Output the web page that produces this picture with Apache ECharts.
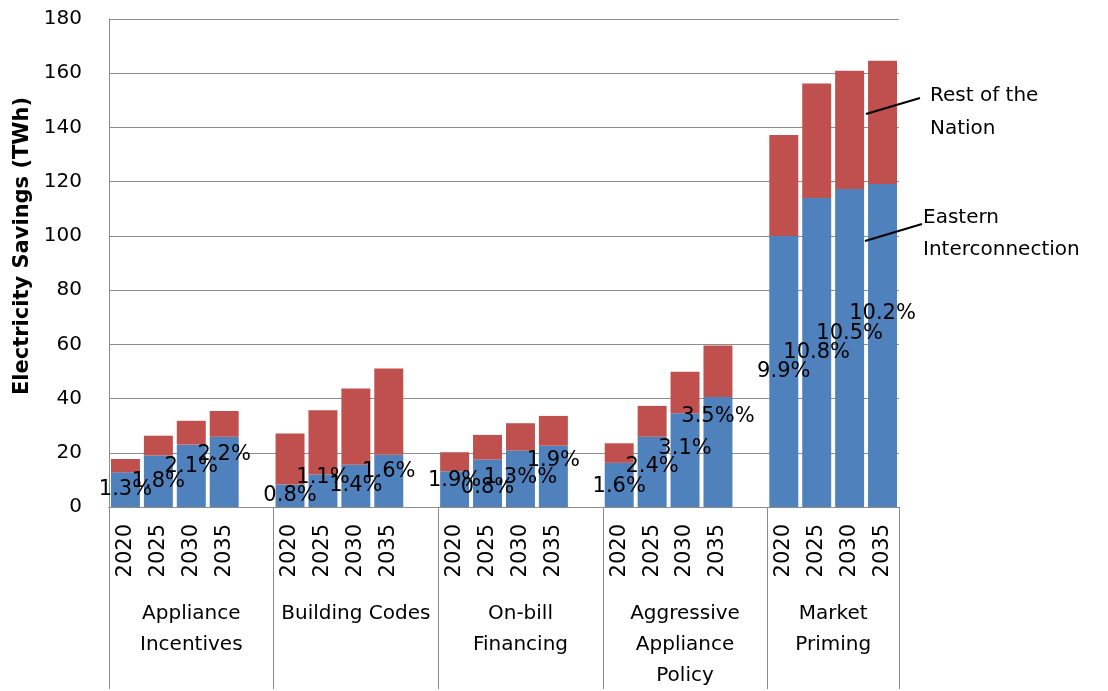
<!DOCTYPE html>
<html>
<head>
<meta charset="utf-8">
<script src="https://cdn.jsdelivr.net/npm/echarts@6/dist/echarts.min.js"></script>
<style>
html, body { margin: 0; background: #fff; }
#main { width: 1108px; height: 691px; }
</style>
</head>
<body>
<div id="main"></div>
<script>
// data (TWh)
var years = ['2020', '2025', '2030', '2035'];
var groups = ['Appliance\nIncentives', 'Building Codes', 'On-bill\nFinancing', 'Aggressive\nAppliance\nPolicy', 'Market\nPriming'];
var eastern = [12.8, 19.0, 23.0, 25.9, 8.3, 12.0, 15.6, 19.3, 13.2, 17.5, 20.8, 22.6, 16.3, 25.9, 34.6, 40.6, 100.0, 114.0, 117.3, 119.1];
var restOfNation = [4.9, 7.3, 8.8, 9.5, 18.8, 23.7, 28.1, 31.8, 7.0, 9.1, 10.1, 11.0, 7.2, 11.4, 15.3, 19.0, 37.2, 42.2, 43.6, 45.5];
var shareLabels = ['1.3%', '1.8%', '2.1%', '2.2%', '0.8%', '1.1%', '1.4%', '1.6%', '1.9%', '0.8%', '1.3%%', '1.9%', '1.6%', '2.4%', '3.1%', '3.5%%', '9.9%', '10.8%', '10.5%', '10.2%'];
// manual nudges of the % labels (px, up is negative)
var labelNudge = [0, 0, -9, -17, 0, -13, 0, -9, -9, 4, -1, -16, 2, -5, -12, -35, 0, 0, -14, -32];
var yTicks = { min: 0, max: 180, interval: 20 };

var FONT = 'DejaVu Sans';
var GREY = '#8c8c8c';

// 24 slots: 4 years + one empty slot after every group but the last
var slotNames = [], blueData = [], redData = [];
groups.forEach(function (g, gi) {
  years.forEach(function (y, yi) {
    var k = gi * 4 + yi;
    slotNames.push(y);
    blueData.push({ value: eastern[k], label: { show: true, offset: [0, labelNudge[k]], formatter: shareLabels[k] } });
    redData.push(restOfNation[k]);
  });
  if (gi < groups.length - 1) {
    slotNames.push('');
    blueData.push({ value: null, label: { show: false } });
    redData.push(null);
  }
});

// half-slot axis used for the group captions and separators
var halfNames = [], sepIdx = [];
for (var i = 0; i <= slotNames.length * 2; i++) halfNames.push('');
groups.forEach(function (g, gi) {
  var start = gi * 10;
  var n = gi < groups.length - 1 ? 5 : 4;
  halfNames[start + n] = g;
  sepIdx.push(start);
});
sepIdx.push(slotNames.length * 2);

var myChart = echarts.init(document.getElementById('main'));
myChart.setOption({
  animation: false,
  textStyle: { fontFamily: FONT },
  grid: { left: 109, right: 209, top: 19, bottom: 181 },
  xAxis: [
    {
      type: 'category',
      data: slotNames,
      position: 'bottom',
      axisLine: { show: true, lineStyle: { color: GREY } },
      axisTick: { show: false },
      axisLabel: { interval: 0, rotate: 90, margin: 17, color: '#000', fontSize: 21, fontFamily: FONT }
    },
    {
      type: 'category',
      data: halfNames,
      boundaryGap: false,
      position: 'bottom',
      offset: 0,
      axisLine: { show: true, lineStyle: { color: GREY } },
      axisTick: {
        show: true, length: 182, lineStyle: { color: GREY },
        interval: function (idx) { return sepIdx.indexOf(idx) >= 0; }
      },
      axisLabel: { interval: 0, margin: 91, color: '#000', fontSize: 20, lineHeight: 31, fontFamily: FONT },
      splitLine: { show: false }
    }
  ],
  yAxis: {
    type: 'value',
    min: yTicks.min,
    max: yTicks.max,
    interval: yTicks.interval,
    name: 'Electricity Savings (TWh)',
    nameLocation: 'middle',
    nameGap: 76,
    nameTextStyle: { color: '#000', fontSize: 21, fontWeight: 'bold', fontFamily: FONT, padding: [0, 0, 0, 34] },
    axisLine: { show: true, lineStyle: { color: GREY } },
    axisTick: { show: false },
    axisLabel: { margin: 27, color: '#000', fontSize: 20, fontFamily: FONT },
    splitLine: { lineStyle: { color: GREY } }
  },
  series: [
    {
      name: 'Eastern Interconnection',
      type: 'bar',
      stack: 'total',
      xAxisIndex: 0,
      barCategoryGap: '12%',
      itemStyle: { color: '#4f81bd' },
      label: { position: 'inside', color: '#000', fontSize: 21, fontFamily: FONT },
      data: blueData
    },
    {
      name: 'Rest of the Nation',
      type: 'bar',
      stack: 'total',
      xAxisIndex: 0,
      barCategoryGap: '12%',
      itemStyle: { color: '#c0504d' },
      data: redData
    }
  ],
  graphic: [
    { type: 'line', z: 100, shape: { x1: 920, y1: 98, x2: 866, y2: 114 }, style: { stroke: '#000', lineWidth: 2 } },
    { type: 'line', z: 100, shape: { x1: 922, y1: 224, x2: 865, y2: 241 }, style: { stroke: '#000', lineWidth: 2 } },
    { type: 'text', z: 100, left: 930, top: 79, style: { text: 'Rest of the\nNation', fill: '#000', font: '20px "DejaVu Sans"', lineHeight: 33 } },
    { type: 'text', z: 100, left: 923, top: 202, style: { text: 'Eastern\nInterconnection', fill: '#000', font: '20px "DejaVu Sans"', lineHeight: 32 } }
  ]
});
</script>
</body>
</html>
